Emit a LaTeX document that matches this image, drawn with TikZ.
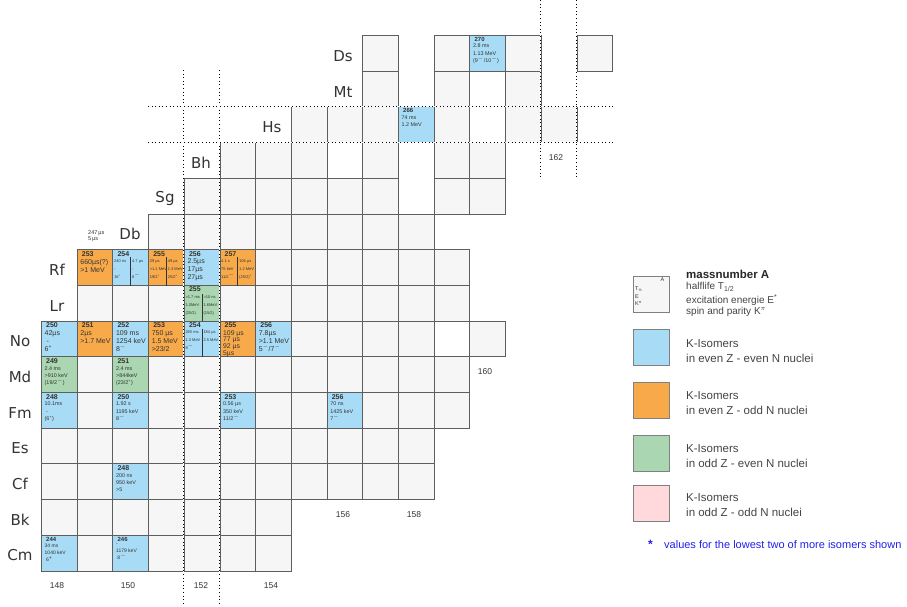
\documentclass[tikz,border=0pt]{standalone}
\usepackage{fontspec}
\setmainfont{Liberation Sans}
\newfontfamily\elfont{DejaVu Sans}
\usetikzlibrary{calc}
\definecolor{cblue}{HTML}{A8DCF6}
\definecolor{corange}{HTML}{F8AA4A}
\definecolor{cgreen}{HTML}{AAD6B2}
\definecolor{cpink}{HTML}{FFD9DC}
\definecolor{cgray}{HTML}{F6F6F6}
\definecolor{cline}{HTML}{5E5E5E}
\definecolor{ctext}{HTML}{333333}
\definecolor{lgtext}{HTML}{444444}
\definecolor{notec}{HTML}{2020E8}
\tikzset{
  cellbox/.style={draw=cline, line width=0.8pt, minimum width=35.7pt, minimum height=35.7pt, inner sep=0pt, anchor=north west},
  bigtxt/.style={anchor=north west, inner sep=0pt, align=left, text=ctext, font=\fontsize{7}{8}\selectfont, xshift=3.5pt, yshift=-2pt},
  smalltxt/.style={anchor=north west, inner sep=0pt, align=left, text=ctext, font=\fontsize{5.4}{7.2}\selectfont, xshift=3.5pt, yshift=-2pt},
  tinytxt/.style={anchor=north west, inner sep=0pt, align=left, text=ctext, font=\fontsize{4}{8}\selectfont},
  numtxt/.style={anchor=north west, inner sep=0pt, text=ctext, font=\fontsize{7}{8}\selectfont\bfseries, xshift=5pt, yshift=-2pt},
  ellabel/.style={text=ctext, font=\elfont\fontsize{15}{15}\selectfont, inner sep=0pt},
  axlabel/.style={text=ctext, font=\fontsize{8.5}{9}\selectfont, inner sep=0pt},
  legtxt/.style={anchor=west, text=lgtext, font=\fontsize{10}{12}\selectfont, inner sep=0pt},
  legtwo/.style={anchor=west, align=left, text=lgtext, font=\fontsize{11.5}{15}\selectfont, inner sep=0pt},
  divider/.style={draw=ctext, line width=0.8pt},
  dotline/.style={draw=black, line width=0.9pt, dash pattern=on 1pt off 2.6pt},
  eraseline/.style={draw=white, line width=1.2pt}
}
\begin{document}
\begin{tikzpicture}[x=1pt,y=-1pt]
\useasboundingbox (0,0) rectangle (907,606);
% cells: col/row/fill
\foreach \c/\r/\f in {
 9/0/cgray, 11/0/cgray, 12/0/cblue, 13/0/cgray, 15/0/cgray,
 9/1/cgray, 11/1/cgray, 13/1/cgray,
 7/2/cgray, 8/2/cgray, 9/2/cgray, 10/2/cblue, 11/2/cgray, 13/2/cgray, 14/2/cgray,
 5/3/cgray, 6/3/cgray, 7/3/cgray, 9/3/cgray, 11/3/cgray, 12/3/cgray,
 4/4/cgray, 5/4/cgray, 6/4/cgray, 7/4/cgray, 8/4/cgray, 9/4/cgray, 11/4/cgray, 12/4/cgray,
 3/5/cgray, 4/5/cgray, 5/5/cgray, 6/5/cgray, 7/5/cgray, 8/5/cgray, 9/5/cgray, 10/5/cgray,
 1/6/corange, 2/6/cblue, 3/6/corange, 4/6/cblue, 5/6/corange, 6/6/cgray, 7/6/cgray, 8/6/cgray, 9/6/cgray, 10/6/cgray, 11/6/cgray,
 1/7/cgray, 2/7/cgray, 3/7/cgray, 4/7/cgreen, 5/7/cgray, 6/7/cgray, 7/7/cgray, 8/7/cgray, 9/7/cgray, 10/7/cgray, 11/7/cgray,
 0/8/cblue, 1/8/corange, 2/8/cblue, 3/8/corange, 4/8/cblue, 5/8/corange, 6/8/cblue, 7/8/cgray, 8/8/cgray, 9/8/cgray, 10/8/cgray, 12/8/cgray,
 0/9/cgreen, 1/9/cgray, 2/9/cgreen, 3/9/cgray, 4/9/cgray, 5/9/cgray, 6/9/cgray, 7/9/cgray, 8/9/cgray, 9/9/cgray, 10/9/cgray, 11/9/cgray,
 0/10/cblue, 1/10/cgray, 2/10/cblue, 3/10/cgray, 4/10/cgray, 5/10/cblue, 6/10/cgray, 7/10/cgray, 8/10/cblue, 9/10/cgray, 10/10/cgray, 11/10/cgray,
 0/11/cgray, 1/11/cgray, 2/11/cgray, 3/11/cgray, 4/11/cgray, 5/11/cgray, 6/11/cgray, 7/11/cgray, 8/11/cgray, 9/11/cgray, 10/11/cgray,
 0/12/cgray, 1/12/cgray, 2/12/cblue, 3/12/cgray, 4/12/cgray, 5/12/cgray, 6/12/cgray, 7/12/cgray, 8/12/cgray, 9/12/cgray, 10/12/cgray,
 0/13/cgray, 1/13/cgray, 2/13/cgray, 3/13/cgray, 4/13/cgray, 5/13/cgray, 6/13/cgray,
 0/14/cblue, 1/14/cgray, 2/14/cblue, 3/14/cgray, 4/14/cgray, 5/14/cgray, 6/14/cgray}
 { \node[cellbox, fill=\f] (c\c-\r) at ({41+35.7*\c},{35+35.7*\r}) {}; }

% dotted guide lines
\coordinate (va1) at (183.8,70); \coordinate (va2) at (183.8,606);
\coordinate (vb1) at (219.5,70); \coordinate (vb2) at (219.5,606);
\coordinate (vc1) at (540.8,0); \coordinate (vc2) at (540.8,178);
\coordinate (vd1) at (576.5,0); \coordinate (vd2) at (576.5,178);
\coordinate (ha1) at (148,106.4); \coordinate (ha2) at (613,106.4);
\coordinate (hb1) at (148,142.1); \coordinate (hb2) at (613,142.1);
\foreach \a/\b in {va1/va2, vb1/vb2, vc1/vc2, vd1/vd2, ha1/ha2, hb1/hb2} {
  \draw[eraseline] (\a) -- (\b);
  \draw[dotline] (\a) -- (\b);
}

% split cell dividers
\draw[divider] ($(c2-6.north)+(0,8)$) -- (c2-6.south);
\draw[divider] ($(c3-6.north)+(0,8)$) -- (c3-6.south);
\draw[divider] ($(c5-6.north)+(0,8)$) -- (c5-6.south);
\draw[divider] ($(c4-7.north)+(0,9)$) -- (c4-7.south);
\draw[divider] ($(c4-8.north)+(0,8)$) -- (c4-8.south);

% element labels
\node[ellabel] (lDs) at (343,56) {Ds};
\node[ellabel] (lMt) at (343,92) {Mt};
\node[ellabel] (lHs) at (272,127) {Hs};
\node[ellabel] (lBh) at (201,163) {Bh};
\node[ellabel] (lSg) at (165,198) {Sg};
\node[ellabel] (lDb) at (130,234) {Db};
\node[ellabel] (lRf) at (57,270) {Rf};
\node[ellabel] (lLr) at (57,306) {Lr};
\node[ellabel] (lNo) at (20,341) {No};
\node[ellabel] (lMd) at (20,377) {Md};
\node[ellabel] (lFm) at (20,413) {Fm};
\node[ellabel] (lEs) at (20,448) {Es};
\node[ellabel] (lCf) at (20,484) {Cf};
\node[ellabel] (lBk) at (20,520) {Bk};
\node[ellabel] (lCm) at (20,555) {Cm};

% axis labels
\node[axlabel] (n148) at (57,586) {148};
\node[axlabel] (n150) at (128,586) {150};
\node[axlabel] (n152) at (201,586) {152};
\node[axlabel] (n154) at (271,586) {154};
\node[axlabel] (n156) at (343,515) {156};
\node[axlabel] (n158) at (414,515) {158};
\node[axlabel] (n160) at (485,372) {160};
\node[axlabel] (n162) at (556,158) {162};

% extra text above Rf 254
\node[anchor=north west, inner sep=0pt, align=left, text=ctext, font=\fontsize{5.6}{6.6}\selectfont] (x247) at (88,230) {247\,µs\\5\,µs};

% cell contents
\node[numtxt, font=\fontsize{6}{7}\selectfont\bfseries] (t270) at (c12-0.north west) {270};
\node[smalltxt, yshift=-7pt] at (c12-0.north west) {2.8 ms\\1.13 MeV\\(9\textsuperscript{$-$}/10\textsuperscript{$-$})};
\node[numtxt, font=\fontsize{6}{7}\selectfont\bfseries] (t266) at (c10-2.north west) {266};
\node[smalltxt, yshift=-7pt] at (c10-2.north west) {74 ms\\1.2 MeV};

\node[numtxt] (t253rf) at (c1-6.north west) {253};
\node[bigtxt, yshift=-8pt] at (c1-6.north west) {660µs(?)\\>1 MeV};
\node[numtxt] (t254rf) at (c2-6.north west) {254};
\node[tinytxt] at ($(c2-6.north west)+(1.5,10)$) {240 ns\\-\\16\textsuperscript{+}};
\node[tinytxt] at ($(c2-6.north west)+(19.5,10)$) {4.7 µs\\-\\8\textsuperscript{$-$}};
\node[numtxt] (t255rf) at (c3-6.north west) {255};
\node[tinytxt] at ($(c3-6.north west)+(1.5,10)$) {29 µs\\>1.1 MeV\\19/2\textsuperscript{+}};
\node[tinytxt] at ($(c3-6.north west)+(19.5,10)$) {49 µs\\1.3 MeV\\25/2\textsuperscript{+}};
\node[numtxt] (t256rf) at (c4-6.north west) {256};
\node[bigtxt, yshift=-7pt] at (c4-6.north west) {2.5µs\\17µs\\27µs};
\node[numtxt] (t257rf) at (c5-6.north west) {257};
\node[tinytxt] at ($(c5-6.north west)+(1.5,10)$) {4.1 s\\75 keV\\11/2\textsuperscript{$-$}};
\node[tinytxt] at ($(c5-6.north west)+(19.5,10)$) {106 µs\\1.2 MeV\\(25/2)\textsuperscript{+}};

\node[numtxt] (t255lr) at (c4-7.north west) {255};
\node[tinytxt] at ($(c4-7.north west)+(1.5,11)$) {>1.7 ms\\1.0MeV\\(25/2)};
\node[tinytxt] at ($(c4-7.north west)+(19.5,11)$) {>10 ns\\1.6MeV\\(15/2)};

\node[numtxt] (t250no) at (c0-8.north west) {250};
\node[bigtxt, yshift=-8pt] at (c0-8.north west) {42µs\\\ -\\6\textsuperscript{+}};
\node[numtxt] (t251no) at (c1-8.north west) {251};
\node[bigtxt, yshift=-8pt] at (c1-8.north west) {2µs\\>1.7 MeV};
\node[numtxt] (t252no) at (c2-8.north west) {252};
\node[bigtxt, yshift=-8pt] at (c2-8.north west) {109 ms\\1254 keV\\8\textsuperscript{$-$}};
\node[numtxt] (t253no) at (c3-8.north west) {253};
\node[bigtxt, yshift=-8pt] at (c3-8.north west) {750 µs\\1.5 MeV\\>23/2};
\node[numtxt] (t254no) at (c4-8.north west) {254};
\node[tinytxt] at ($(c4-8.north west)+(1.5,10)$) {265 ms\\1.3 MeV\\8\textsuperscript{$-$}};
\node[tinytxt] at ($(c4-8.north west)+(19.5,10)$) {184 µs\\2.5 MeV};
\node[numtxt] (t255no) at (c5-8.north west) {255};
\node[bigtxt, yshift=-7.5pt, font=\fontsize{6.8}{6.9}\selectfont] at (c5-8.north west) {109 µs\\77 µs\\92 µs\\5µs};
\node[numtxt] (t256no) at (c6-8.north west) {256};
\node[bigtxt, yshift=-8pt] at (c6-8.north west) {7.8µs\\>1.1 MeV\\5\textsuperscript{$-$}/7\textsuperscript{$-$}};

\node[numtxt] (t249md) at (c0-9.north west) {249};
\node[smalltxt, yshift=-8pt] at (c0-9.north west) {2.4 ms\\>910 keV\\(19/2\textsuperscript{$-$})};
\node[numtxt] (t251md) at (c2-9.north west) {251};
\node[smalltxt, yshift=-8pt] at (c2-9.north west) {2.4 ms\\>844keV\\(23/2\textsuperscript{+})};

\node[numtxt] (t248fm) at (c0-10.north west) {248};
\node[smalltxt, yshift=-8pt] at (c0-10.north west) {10.1ms\\\ -\\(6\textsuperscript{+})};
\node[numtxt] (t250fm) at (c2-10.north west) {250};
\node[smalltxt, yshift=-8pt] at (c2-10.north west) {1.92 s\\1195 keV\\8\textsuperscript{$-$}};
\node[numtxt] (t253fm) at (c5-10.north west) {253};
\node[smalltxt, yshift=-8pt] at (c5-10.north west) {0.56 µs\\350 keV\\11/2\textsuperscript{$-$}};
\node[numtxt] (t256fm) at (c8-10.north west) {256};
\node[smalltxt, yshift=-8pt] at (c8-10.north west) {70 ns\\1425 keV\\7\textsuperscript{$-$}};

\node[numtxt] (t248cf) at (c2-12.north west) {248};
\node[smalltxt, yshift=-8pt] at (c2-12.north west) {200 ns\\950 keV\\>5};

\node[numtxt, font=\fontsize{6}{7}\selectfont\bfseries] (t244cm) at (c0-14.north west) {244};
\node[smalltxt, font=\fontsize{5}{7}\selectfont, yshift=-7pt] at (c0-14.north west) {34 ms\\1040 keV\\\ 6\textsuperscript{+}};
\node[numtxt, font=\fontsize{6}{7}\selectfont\bfseries] (t246cm) at (c2-14.north west) {246};
\node[smalltxt, font=\fontsize{5}{7}\selectfont, yshift=-7pt] at (c2-14.north west) {-\\1179 keV\\\ 8\textsuperscript{$-$}};

% legend
\node[cellbox, fill=cgray, draw=gray] (lg0) at (633,276) {};
\node[anchor=north east, inner sep=0pt, text=ctext, font=\fontsize{5.5}{6}\selectfont] at ($(lg0.north east)+(-5,2)$) {A};
\node[anchor=north west, inner sep=0pt, align=left, text=ctext, font=\fontsize{5.5}{7.5}\selectfont] at ($(lg0.north west)+(2,11)$) {T\textsubscript{½}\\E\\K\textsuperscript{π}};
\node[legtxt, font=\fontsize{11.5}{12}\selectfont\bfseries, text=black!85] (lgA) at (686,274) {massnumber A};
\node[legtxt] (lgT) at (686,287) {halflife T\textsubscript{1/2}};
\node[legtxt] (lgE) at (686,300) {excitation energie E\textsuperscript{*}};
\node[legtxt] (lgK) at (686,312) {spin and parity K\textsuperscript{$\pi$}};

\node[cellbox, fill=cblue, draw=gray] (lg1) at (633,329) {};
\node[legtwo] (lt1) at (686,351) {K-Isomers\\in even Z - even N nuclei};
\node[cellbox, fill=corange, draw=gray] (lg2) at (633,382) {};
\node[legtwo] (lt2) at (686,403) {K-Isomers\\in even Z - odd N nuclei};
\node[cellbox, fill=cgreen, draw=gray] (lg3) at (633,435) {};
\node[legtwo] (lt3) at (686,456) {K-Isomers\\in odd Z - even N nuclei};
\node[cellbox, fill=cpink, draw=gray] (lg4) at (633,485) {};
\node[legtwo] (lt4) at (686,505) {K-Isomers\\in odd Z - odd N nuclei};

\node[anchor=west, inner sep=0pt, text=notec, font=\fontsize{12}{12}\selectfont\bfseries] (star) at (648,544) {*};
\node[anchor=west, inner sep=0pt, text=notec, font=\fontsize{11}{12}\selectfont] (note) at (664,545) {values for the lowest two of more isomers shown};
\end{tikzpicture}
\end{document}
